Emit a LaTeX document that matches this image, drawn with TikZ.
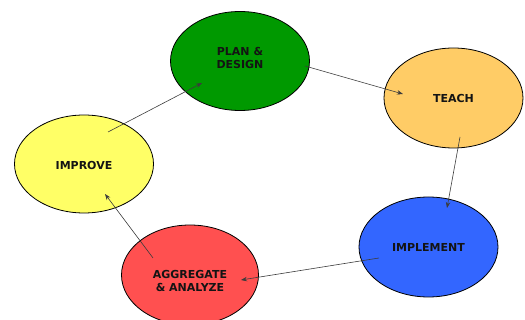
\documentclass[tikz,border=0pt]{standalone}
\usepackage{fontspec}
\setmainfont{DejaVu Sans}
\usetikzlibrary{shapes.geometric,arrows.meta}
\definecolor{cgreen}{RGB}{0,153,0}
\definecolor{corange}{RGB}{255,204,102}
\definecolor{cblue}{RGB}{51,102,255}
\definecolor{cred}{RGB}{255,80,80}
\definecolor{cyellow}{RGB}{255,255,102}
\definecolor{ctext}{RGB}{20,20,20}
\definecolor{cline}{RGB}{60,60,60}
\tikzset{
  stage/.style={ellipse, draw=black, line width=0.8pt, inner sep=0pt,
    minimum width=139pt, minimum height=99pt},
  lbl/.style={font=\fontsize{11}{12.5}\selectfont\bfseries, text=ctext, align=center, inner sep=0pt},
  conn/.style={draw=cline, line width=0.6pt, -{Stealth[length=6pt,width=4.5pt]}}
}
\begin{document}
\begin{tikzpicture}[x=1pt,y=-1pt]
\useasboundingbox (0,0) rectangle (525,320);
\begin{scope}
\clip (0,0) rectangle (525,320);
\node[stage, fill=cgreen] (plan) at (240,61) {};
\node[stage, fill=corange, minimum height=100pt] (teach) at (453.5,98) {};
\node[stage, fill=cblue, minimum height=100pt] (impl) at (428.5,247) {};
\node[stage, fill=cred, minimum width=137pt, minimum height=100pt] (agg) at (190,275) {};
\node[stage, fill=cyellow, minimum height=98pt] (impr) at (84,164) {};
\end{scope}
\node[lbl] (tplan) at (240,58) {PLAN \&\\DESIGN};
\node[lbl] (tteach) at (453.5,98) {TEACH};
\node[lbl] (timpl) at (428.5,247) {IMPLEMENT};
\node[lbl] (tagg) at (190,281) {AGGREGATE\\\& ANALYZE};
\node[lbl] (timpr) at (84,165) {IMPROVE};
\coordinate (s1) at (108,132); \coordinate (e1) at (202,83);
\coordinate (s2) at (305,66);  \coordinate (e2) at (403,94);
\coordinate (s3) at (460,137); \coordinate (e3) at (447,208);
\coordinate (s4) at (379,258); \coordinate (e4) at (241,280);
\coordinate (s5) at (153,258); \coordinate (e5) at (105,194);
\draw[conn] (s1) -- (e1);
\draw[conn] (s2) -- (e2);
\draw[conn] (s3) -- (e3);
\draw[conn] (s4) -- (e4);
\draw[conn] (s5) -- (e5);
\end{tikzpicture}
\end{document}
